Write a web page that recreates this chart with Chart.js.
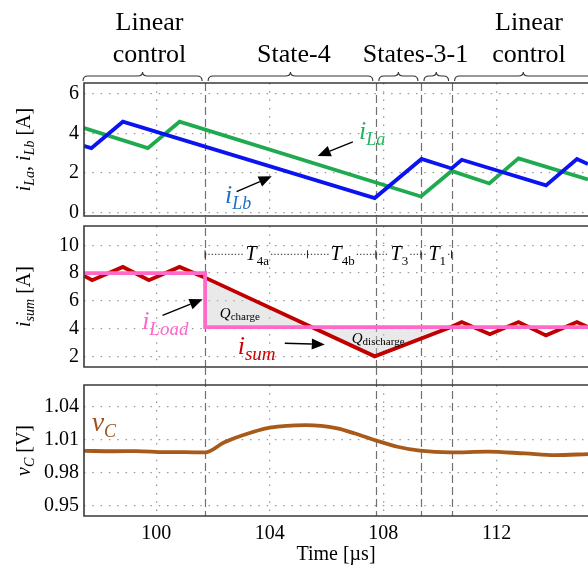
<!DOCTYPE html>
<html><head><meta charset="utf-8">
<script src="https://cdn.jsdelivr.net/npm/chart.js@4/dist/chart.umd.min.js"></script>
<style>
html,body{margin:0;padding:0;background:#fff;overflow:hidden;width:588px;height:569px;position:relative}
canvas{position:absolute;left:0}
</style></head><body>
<canvas id="cA" width="588" height="222" style="top:0px"></canvas>
<canvas id="cB" width="588" height="156" style="top:216px"></canvas>
<canvas id="cC" width="588" height="202" style="top:367px"></canvas>
<script>
// ---------------- data ----------------
const T_MIN = 97.45, T_MAX = 115.22;
const xTicks = [100, 104, 108, 112];
const yTicksA = [0, 2, 4, 6];
const yTicksB = [2, 4, 6, 8, 10];
const yTicksC = [0.95, 0.98, 1.01, 1.04];

const phaseBounds = [101.72, 107.74, 109.33, 110.41];
const subIntervalBounds = [101.72, 105.33, 107.74, 109.33, 110.41];
const subIntervalNames = [["T","4a"], ["T","4b"], ["T","3"], ["T","1"]];

const iLaT = [97.41, 99.70, 100.82, 109.33, 110.41, 111.74, 112.77, 115.22];
const iLaV = [4.29, 3.25, 4.59, 0.80, 2.09, 1.46, 2.73, 1.66];

const iLbT = [97.41, 97.71, 98.82, 107.70, 109.35, 110.41, 110.77, 113.74, 114.83, 115.22];
const iLbV = [3.37, 3.25, 4.59, 0.72, 2.70, 2.22, 2.66, 1.36, 2.70, 2.44];

const isumT = [97.41, 97.74, 98.82, 99.74, 100.82, 101.72, 107.70, 110.35, 110.77, 111.76, 112.77, 113.74, 114.83, 115.22];
const isumV = [7.84, 7.48, 8.44, 7.48, 8.44, 7.67, 2.00, 4.07, 4.47, 3.59, 4.47, 3.51, 4.47, 4.11];

const iLoadT = [97.41, 101.72, 101.72, 115.22];
const iLoadV = [8.0, 8.0, 4.1, 4.1];
const iLoadFinal = 4.1;

const vCT = [97.45, 98.5, 99.3, 100.3, 101.0, 101.72, 102.4, 103.07, 104.0, 105.28, 106.38, 107.0, 107.7, 108.5, 109.29, 110.35, 111.68, 113.0, 114.06, 115.22];
const vCV = [0.9997, 0.9993, 0.9995, 0.9985, 0.9985, 0.9982, 1.0075, 1.0141, 1.0208, 1.0232, 1.0202, 1.0155, 1.0095, 1.0034, 0.9998, 0.9982, 0.9990, 0.9973, 0.9958, 0.9967];

// ---------------- helpers ----------------
const FONT = "'Liberation Serif','Times New Roman',serif";
const pts = (ts, vs) => ts.map((t, i) => ({x: t, y: vs[i]}));
const gridDash = [1.5, 6.8];
const GRID = '#9a9a9a';

function xScale(showLabels, axisHeight) {
  return {
    type: 'linear', min: T_MIN, max: T_MAX,
    afterBuildTicks: s => { s.ticks = xTicks.map(v => ({value: v})); },
    afterFit: s => { s.height = axisHeight; s.paddingLeft = 0; s.paddingRight = 0; },
    grid: {color: GRID, lineWidth: 1.3, drawTicks: false},
    border: {display: false, dash: gridDash},
    ticks: {display: showLabels, padding: 6, color: '#000', font: {family: FONT, size: 20}, callback: v => String(v)},
    title: showLabels ? {display: true, text: 'Time [µs]', color: '#000', font: {family: FONT, size: 20}, padding: {top: 0, bottom: 2}} : {display: false}
  };
}
function yScale(min, max, ticks, fmt) {
  return {
    type: 'linear', min, max,
    afterBuildTicks: s => { s.ticks = ticks.map(v => ({value: v})); },
    afterFit: s => { s.width = 84; s.paddingTop = 0; s.paddingBottom = 0; },
    grid: {color: GRID, lineWidth: 1.3, drawTicks: false},
    border: {display: false, dash: gridDash},
    ticks: {padding: 5, color: '#000', font: {family: FONT, size: 20}, callback: fmt}
  };
}
function line(data, color, extra) {
  return Object.assign({data, borderColor: color, borderWidth: 3.8, pointRadius: 0, tension: 0, fill: false, borderJoinStyle: 'miter'}, extra || {});
}

function drawRich(ctx, x, y, segs, align) {
  let w = 0;
  segs.forEach(s => { ctx.font = s.font; s.w = ctx.measureText(s.t).width; w += s.w; });
  let cx = align === 'center' ? x - w / 2 : x;
  segs.forEach(s => { ctx.font = s.font; ctx.fillStyle = s.color; ctx.fillText(s.t, cx, y + (s.dy || 0)); cx += s.w; });
  return w;
}
function arrow(ctx, x1, y1, x2, y2) {
  const a = Math.atan2(y2 - y1, x2 - x1), L = 13, W = 5.5;
  const bx = x2 - L * Math.cos(a), by = y2 - L * Math.sin(a);
  ctx.save();
  ctx.strokeStyle = '#000'; ctx.fillStyle = '#000'; ctx.lineWidth = 1.4; ctx.setLineDash([]);
  ctx.beginPath(); ctx.moveTo(x1, y1); ctx.lineTo(bx, by); ctx.stroke();
  ctx.beginPath(); ctx.moveTo(x2, y2);
  ctx.lineTo(bx + W * Math.sin(a), by - W * Math.cos(a));
  ctx.lineTo(bx - W * Math.sin(a), by + W * Math.cos(a));
  ctx.closePath(); ctx.fill();
  ctx.restore();
}
function brace(ctx, x0, x1, yb) {
  const xm = (x0 + x1) / 2, r = Math.min(5, (x1 - x0) / 4), yt = yb - 5, ytip = yb - 9;
  ctx.beginPath();
  ctx.moveTo(x0, yb);
  ctx.quadraticCurveTo(x0, yt, x0 + r, yt);
  ctx.lineTo(xm - r, yt);
  ctx.quadraticCurveTo(xm, yt, xm, ytip);
  ctx.quadraticCurveTo(xm, yt, xm + r, yt);
  ctx.lineTo(x1 - r, yt);
  ctx.quadraticCurveTo(x1, yt, x1, yb);
  ctx.stroke();
}
function yTitle(ctx, cx, cy, segs) {
  ctx.save();
  ctx.translate(cx, cy); ctx.rotate(-Math.PI / 2);
  ctx.textBaseline = 'middle';
  drawRich(ctx, 0, 0, segs, 'center');
  ctx.restore();
}
const IT = s => 'italic ' + s + 'px ' + FONT;
const RM = s => s + 'px ' + FONT;

const deco = {
  id: 'deco',
  beforeDatasetsDraw(chart, args, opts) {
    const {ctx, chartArea: ca, scales: {x}} = chart;
    ctx.save();
    ctx.strokeStyle = '#707070'; ctx.lineWidth = 1.2; ctx.setLineDash([8, 4]);
    const y0 = opts.panel === 'A' ? ca.top : 0;
    phaseBounds.forEach(t => {
      const px = Math.round(x.getPixelForValue(t)) + 0.5;
      ctx.beginPath(); ctx.moveTo(px, y0); ctx.lineTo(px, ca.bottom); ctx.stroke();
    });
    ctx.restore();
  },
  afterDraw(chart, args, opts) {
    const {ctx, chartArea: ca, scales: {x, y}} = chart;
    const P = (t, v) => [x.getPixelForValue(t), y.getPixelForValue(v)];
    ctx.save();
    // frame
    ctx.strokeStyle = '#3a3a3a'; ctx.lineWidth = 1.6; ctx.setLineDash([]);
    ctx.beginPath();
    ctx.moveTo(ca.right + 2, ca.top); ctx.lineTo(ca.left, ca.top);
    ctx.lineTo(ca.left, ca.bottom); ctx.lineTo(ca.right + 2, ca.bottom);
    ctx.stroke();
    ctx.textBaseline = 'alphabetic';

    if (opts.panel === 'A') {
      // braces and phase names
      const bounds = [T_MIN, ...phaseBounds, T_MAX];
      ctx.strokeStyle = '#333'; ctx.lineWidth = 1.1;
      for (let i = 0; i < bounds.length - 1; i++) {
        const a = x.getPixelForValue(bounds[i]) + (i === 0 ? -1 : 3);
        const b = x.getPixelForValue(bounds[i + 1]) - (i === bounds.length - 2 ? -4 : 3);
        brace(ctx, a, b, ca.top - 2);
      }
      ctx.fillStyle = '#000'; ctx.font = RM(26); ctx.textAlign = 'center'; ctx.textBaseline = 'middle';
      const l1 = x.getPixelForValue(99.76), l2 = x.getPixelForValue(104.85), l3 = x.getPixelForValue(109.14), l4 = x.getPixelForValue(113.14);
      ctx.fillText('Linear', l1, ca.top - 60); ctx.fillText('control', l1, ca.top - 28);
      ctx.fillText('State-4', l2, ca.top - 28);
      ctx.fillText('States-3-1', l3, ca.top - 28);
      ctx.fillText('Linear', l4, ca.top - 60); ctx.fillText('control', l4, ca.top - 28);
      ctx.textAlign = 'left'; ctx.textBaseline = 'alphabetic';
      // series labels
      let p = P(107.15, 3.72);
      drawRich(ctx, p[0], p[1], [{t: 'i', font: IT(26), color: '#22b35e'}, {t: 'La', font: IT(18), color: '#22b35e', dy: 6}]);
      let a = P(106.93, 3.57), b = P(105.69, 2.85); arrow(ctx, a[0], a[1], b[0], b[1]);
      p = P(102.42, 0.47);
      drawRich(ctx, p[0], p[1], [{t: 'i', font: IT(26), color: '#1f70c8'}, {t: 'Lb', font: IT(18), color: '#1f70c8', dy: 6}]);
      a = P(102.83, 1.04); b = P(104.07, 1.82); arrow(ctx, a[0], a[1], b[0], b[1]);
      // y title
      yTitle(ctx, 25, (ca.top + ca.bottom) / 2, [
        {t: 'i', font: IT(20), color: '#000'}, {t: 'La', font: IT(14), color: '#000', dy: 5},
        {t: ', ', font: RM(20), color: '#000'},
        {t: 'i', font: IT(20), color: '#000'}, {t: 'Lb', font: IT(14), color: '#000', dy: 5},
        {t: ' [A]', font: RM(20), color: '#000'}]);
    }
    if (opts.panel === 'B') {
      // sub-interval annotation
      const yv = 9.35;
      const yy = y.getPixelForValue(yv);
      ctx.strokeStyle = '#222'; ctx.lineWidth = 1;
      for (let i = 0; i < subIntervalBounds.length - 1; i++) {
        const xa = x.getPixelForValue(subIntervalBounds[i]), xb = x.getPixelForValue(subIntervalBounds[i + 1]);
        const xm = (xa + xb) / 2 + 1;
        ctx.font = IT(20); const w1 = ctx.measureText(subIntervalNames[i][0]).width;
        ctx.font = RM(13); const w2 = ctx.measureText(subIntervalNames[i][1]).width;
        const w = w1 + w2;
        ctx.setLineDash([1.3, 2]);
        ctx.beginPath(); ctx.moveTo(xa, yy); ctx.lineTo(xm - w / 2 - 2, yy); ctx.moveTo(xm + w / 2 + 2, yy); ctx.lineTo(xb, yy); ctx.stroke();
        ctx.setLineDash([]);
        ctx.beginPath(); ctx.moveTo(xa, yy - 4); ctx.lineTo(xa, yy + 4); ctx.stroke();
        if (i === subIntervalBounds.length - 2) { ctx.beginPath(); ctx.moveTo(xb, yy - 4); ctx.lineTo(xb, yy + 4); ctx.stroke(); }
        ctx.textBaseline = 'middle';
        drawRich(ctx, xm - w / 2, yy, [{t: subIntervalNames[i][0], font: IT(20), color: '#000'}, {t: subIntervalNames[i][1], font: RM(13), color: '#000', dy: 7}]);
        ctx.textBaseline = 'alphabetic';
      }
      // Q labels
      let p = P(102.24, 4.75);
      drawRich(ctx, p[0], p[1], [{t: 'Q', font: IT(15), color: '#000'}, {t: 'charge', font: RM(11), color: '#000', dy: 2}]);
      p = P(106.89, 2.98);
      drawRich(ctx, p[0], p[1], [{t: 'Q', font: IT(15), color: '#000'}, {t: 'discharge', font: RM(11), color: '#000', dy: 2}]);
      // series labels
      p = P(99.50, 3.95);
      drawRich(ctx, p[0], p[1], [{t: 'i', font: IT(26), color: '#ff66cc'}, {t: 'Load', font: IT(19), color: '#ff66cc', dy: 6}]);
      let a = P(100.22, 4.95), b = P(101.63, 6.11); arrow(ctx, a[0], a[1], b[0], b[1]);
      p = P(102.87, 2.15);
      drawRich(ctx, p[0], p[1], [{t: 'i', font: IT(26), color: '#cc0000'}, {t: 'sum', font: IT(19), color: '#cc0000', dy: 6}]);
      a = P(104.53, 2.94); b = P(105.94, 2.86); arrow(ctx, a[0], a[1], b[0], b[1]);
      yTitle(ctx, 25, (ca.top + ca.bottom) / 2, [
        {t: 'i', font: IT(20), color: '#000'}, {t: 'sum', font: IT(14), color: '#000', dy: 5},
        {t: ' [A]', font: RM(20), color: '#000'}]);
    }
    if (opts.panel === 'C') {
      let p = P(97.72, 1.0175);
      drawRich(ctx, p[0], p[1], [{t: 'v', font: IT(28), color: '#a0521e'}, {t: 'C', font: IT(18), color: '#a0521e', dy: 6}]);
      yTitle(ctx, 25, (ca.top + ca.bottom) / 2, [
        {t: 'v', font: IT(20), color: '#000'}, {t: 'C', font: IT(14), color: '#000', dy: 5},
        {t: ' [V]', font: RM(20), color: '#000'}]);
    }
    ctx.restore();
  }
};

function make(id, panel, padTop, xAxisH, showX, yS, datasets) {
  return new Chart(document.getElementById(id), {
    type: 'line',
    data: {datasets},
    options: {
      responsive: false, animation: false, devicePixelRatio: 1,
      layout: {padding: {top: padTop, left: 0, right: 0, bottom: 0}},
      plugins: {legend: {display: false}, tooltip: {enabled: false}, deco: {panel}},
      scales: {x: xScale(showX, xAxisH), y: yS}
    },
    plugins: [deco]
  });
}

make('cA', 'A', 83, 6, false, yScale(-0.19, 6.55, yTicksA, v => String(v)), [
  line(pts(iLbT, iLbV), '#0b14f0'),
  line(pts(iLaT, iLaV), '#1faa50')
]);

const shadeIdx = isumT.map((t, i) => i).filter(i => isumT[i] >= 101.72 && isumT[i] <= 110.35);
make('cB', 'B', 10, 5, false, yScale(1.23, 11.39, yTicksB, v => String(v)), [
  line(pts(iLoadT, iLoadV), '#ff69c8'),
  line(pts(isumT, isumV), '#c00000'),
  line(shadeIdx.map(i => ({x: isumT[i], y: isumV[i]})), 'rgba(0,0,0,0)', {borderWidth: 0, fill: {value: iLoadFinal}, backgroundColor: 'rgba(200,200,200,0.4)'})
]);

make('cC', 'C', 18, 53, true, yScale(0.9403, 1.0597, yTicksC, v => v.toFixed(2)), [
  line(pts(vCT, vCV), '#a85a1a', {cubicInterpolationMode: 'monotone'})
]);
</script>
</body></html>
